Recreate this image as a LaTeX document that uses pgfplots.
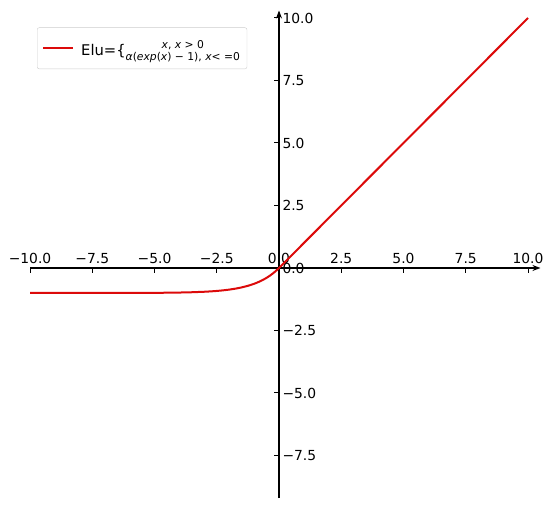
\documentclass[border=0pt]{standalone}
\usepackage{pgfplots}
\pgfplotsset{compat=1.18}
\usepackage{fontspec}
\setmainfont{DejaVu Sans}
\usetikzlibrary{arrows.meta}
\definecolor{arrowfill}{RGB}{30,50,90}
\definecolor{curve}{RGB}{220,10,10}
\newcommand{\stk}{\raisebox{-5.5bp}{\fontsize{10.8}{12.5}\selectfont\begin{tabular}[b]{@{}c@{}}\itshape x\upshape, \itshape x \upshape> 0\\ \itshape α\upshape(\itshape exp\upshape(\itshape x\upshape) − 1), \itshape x\upshape< =0\end{tabular}}}
\begin{document}
\begin{tikzpicture}
\path[use as bounding box] (0,0) rectangle (550bp,512bp);
\begin{axis}[
  at={(30bp,14bp)}, anchor=south west,
  scale only axis, width=510.45bp, height=487.5bp,
  xmin=-10, xmax=10.5, ymin=-9.2, ymax=10.3,
  axis lines=middle,
  axis line style={line width=1.1bp, black, -{Stealth[length=8bp,width=6bp,fill=arrowfill]}},
  xtick={-10,-7.5,-5,-2.5,0,2.5,5,7.5,10},
  xticklabels={−10.0,−7.5,−5.0,−2.5,0.0,2.5,5.0,7.5,10.0},
  ytick={-7.5,-5,-2.5,0,2.5,5,7.5,10},
  yticklabels={−7.5,−5.0,−2.5,0.0,2.5,5.0,7.5,10.0},
  hide obscured x ticks=false, hide obscured y ticks=false,
  tick align=outside, major tick length=5bp,
  tick style={line width=1bp, black},
  tick label style={font=\fontsize{13.9}{16}\selectfont},
  xticklabel style={anchor=south, yshift=6bp},
  yticklabel style={anchor=west, xshift=5bp},
  legend style={at={(0,1)}, anchor=north west, xshift=7bp, yshift=-17bp,
    draw=black!20, rounded corners=2bp, font=\fontsize{14.8}{17}\selectfont,
    inner xsep=5bp, inner ysep=10bp},
  legend cell align=left,
  legend image code/.code={\draw[curve, line width=2bp] (0bp,0bp) -- (30bp,0bp);},
]
\addplot[curve, line width=2bp] coordinates {
(-10,-0.99995) (-9,-0.99988) (-8,-0.99966) (-7,-0.99909) (-6,-0.99752)
(-5.5,-0.99591) (-5,-0.99326) (-4.5,-0.98889) (-4,-0.98168) (-3.5,-0.96980)
(-3,-0.95021) (-2.75,-0.93607) (-2.5,-0.91792) (-2.25,-0.89460) (-2,-0.86466)
(-1.75,-0.82623) (-1.5,-0.77687) (-1.25,-0.71350) (-1,-0.63212)
(-0.875,-0.58314) (-0.75,-0.52763) (-0.625,-0.46474) (-0.5,-0.39347)
(-0.375,-0.31271) (-0.25,-0.22120) (-0.125,-0.11750) (0,0) (10,10)
};
\addlegendentry{\hspace{5bp}Elu=\{\stk}
\end{axis}
\end{tikzpicture}
\end{document}
